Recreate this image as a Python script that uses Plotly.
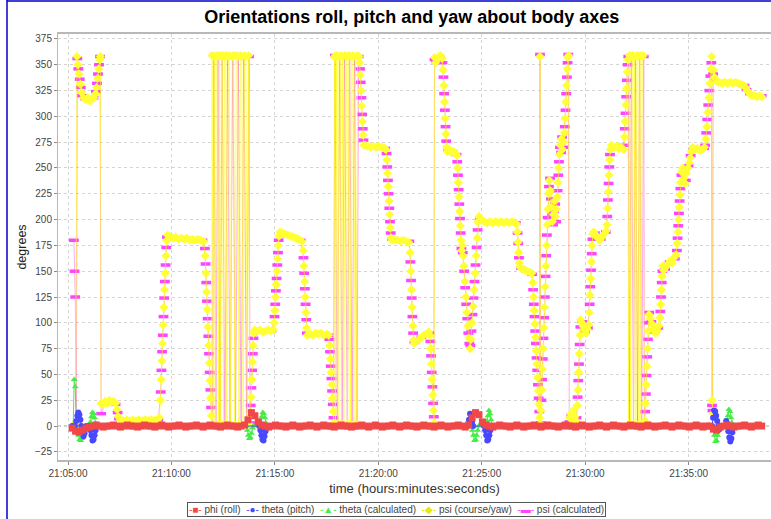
import plotly.graph_objects as go
import pandas as pd

# ---------------- data (seconds after 21:05:00, degrees) ----------------
BASE = pd.Timestamp("2011-01-01 21:05:00")

# phi (roll): sampled every 10 s from 21:05:12
phi_sec = list(range(12, 2013, 10))
phi_deg = [
    -2, -5, -6, -4, -2, -1, 0, 1, 0, -1,
    0, 0, 1, 0, -1, 0, 1, 0, 0, -1,
    0, 1, 0, 0, -1, 0, 1, 0, -1, 0,
    0, 1, 0, -1, 0, 0, 1, 0, -1, 0,
    1, 0, 0, -1, 0, 1, 0, 0, -1, 0,
    1, 6, 13, 10, 4, 1, 0, -1, 0, 1,
    0, 0, -1, 0, 1, 0, -1, 0, 0, 1,
    0, -1, 0, 1, 0, 0, -1, 0, 1, 0,
    0, -1, 0, 0, 1, 0, -1, 0, 1, 0,
    -1, 0, 0, 1, 0, -1, 0, 1, 0, 0,
    -1, 0, 1, 0, 0, -1, 0, 1, 0, -1,
    0, 0, 1, 0, -1, 1, 8, 13, 11, 4,
    1, 0, -1, 0, 1, 0, 0, -1, 0, 1,
    0, -1, 0, 0, 1, 0, -1, 0, 1, 0,
    0, -1, 0, 1, 0, 0, -1, 0, 1, 0,
    -1, 0, 0, 1, 0, -1, 0, 1, 0, 0,
    -1, 0, 1, 0, 0, -1, 0, 1, 0, -1,
    0, 0, 1, 0, -1, 0, 1, 0, 0, -1,
    0, 1, 0, -1, 0, 0, -3, -4, -1, 0,
    1, 0, -1, 0, 0, 1, 0, -1, 0, 1,
    0,
]

theta_sec = [12, 20, 24, 27, 30, 33, 36, 39, 42, 45, 48, 51, 54,
             62, 65, 68, 71, 74, 77, 80, 83,
             555, 558, 561, 564, 567, 570, 573, 576,
             1160, 1163, 1166, 1169, 1172, 1175,
             1207, 1210, 1213, 1216, 1219, 1222, 1225, 1228,
             1868, 1871, 1874, 1877, 1880, 1883, 1886, 1889, 1892,
             1906, 1909, 1912, 1915, 1918, 1921, 1924, 1927, 1930,
             2012]
theta_deg = [0, 0, 5, 10, 13, 11, 6, 0, -6, -10, -7, -2, 0,
             0, -4, -9, -14, -13, -9, -4, 0,
             0, -4, -9, -13, -14, -10, -5, -1,
             0, 6, 12, 10, 4, 0,
             0, -4, -9, -14, -13, -9, -4, 0,
             0, 8, 15, 14, 10, 5, 0, -3, 0,
             0, 5, 2, -5, -11, -15, -12, -6, 0,
             0]

thetac_sec = [12, 15, 18, 21, 24, 28, 31, 34, 37, 40, 43, 46, 49,
              62, 65, 68, 71, 74, 77, 80, 83,
              517, 520, 523, 526, 529, 532, 535, 538,
              556, 559, 562, 565, 568, 571, 574, 577,
              1170, 1173, 1176, 1179, 1182, 1185, 1188, 1191,
              1212, 1215, 1218, 1221, 1224, 1227, 1230,
              1869, 1872, 1875, 1878, 1881, 1884, 1887, 1890,
              1908, 1911, 1914, 1917, 1920, 1923, 1926, 1929,
              2012]
thetac_deg = [0, 0, 45, 38, 0, -4, -9, -13, -14, -12, -8, -3, 0,
              0, 4, 9, 13, 12, 8, 3, 0,
              0, -4, -9, -12, -11, -7, -2, 0,
              0, 4, 9, 13, 12, 8, 3, 0,
              0, -4, -9, -14, -13, -9, -4, 0,
              0, 5, 10, 15, 12, 6, 0,
              0, -4, -9, -15, -14, -9, -4, 0,
              0, 5, 10, 16, 14, 8, 3, 0,
              0]

psi_sec = [
    22, 26, 29, 32, 36, 40, 45, 51, 57, 63, 69, 75, 80, 83, 86, 89, 92, 94,
    96, 102, 108, 114, 120, 126, 132, 138, 142, 146,
    152, 161, 170, 179, 188, 197, 206, 215, 224, 233, 242, 251, 259, 265,
    268, 270, 272, 274, 276, 278, 280, 282, 284, 286,
    289, 297, 305, 313, 321, 329, 337, 345, 353, 361, 369, 377, 385, 393,
    398, 400, 402, 404, 406, 408, 410, 412, 414, 416,
    418, 421, 424, 427, 430, 433, 436, 439, 442, 445, 448, 451, 454, 458, 461, 465,
    468, 472, 476, 480, 484, 488, 492, 496, 500, 504, 508, 512, 516, 520, 524, 527,
    529, 531, 533, 535, 537, 539,
    541, 549, 557, 565, 573, 581, 589, 596,
    598, 600, 602, 604, 606, 608, 610, 612,
    615, 622, 630, 638, 646, 654, 662, 670, 678,
    682, 684, 686, 688, 690, 692,
    694, 702, 710, 718, 726, 734, 742, 750, 756,
    759, 761, 763, 765, 767, 769, 771,
    773, 776, 779, 783, 786, 790, 793, 797, 800, 804, 808, 811, 815, 819, 822, 826,
    829, 833, 836, 840, 844,
    846, 848, 850, 852, 854, 856, 858,
    862, 870, 878, 886, 894, 902, 910, 918, 922,
    925, 927, 929, 931, 933, 935, 937,
    940, 948, 956, 964, 972, 980, 988,
    992, 994, 996, 998, 1000, 1002,
    1004, 1011, 1018, 1025, 1032, 1039, 1046, 1050,
    1052, 1054, 1056, 1058, 1060, 1062,
    1063, 1066, 1071, 1076, 1081, 1085,
    1088, 1090, 1092, 1094, 1096, 1098,
    1100, 1106, 1112, 1118, 1124, 1128,
    1130, 1132, 1134, 1136, 1138, 1140,
    1142, 1144, 1146,
    1148, 1151, 1154, 1157, 1160, 1163, 1166,
    1169, 1172, 1175, 1178, 1181, 1184, 1187, 1189,
    1192, 1200, 1208, 1216, 1224, 1232, 1240, 1248, 1256, 1264, 1272, 1280, 1288, 1296, 1301,
    1303, 1305, 1307, 1309,
    1311, 1318, 1325, 1332, 1339, 1345,
    1348, 1350, 1352, 1354, 1356, 1358, 1360, 1362, 1364, 1366, 1368,
    1369, 1370,
    1372, 1374, 1376, 1378, 1380, 1382, 1384, 1386, 1388, 1390, 1392,
    1394, 1396, 1399, 1402, 1405, 1408, 1411, 1414, 1417,
    1419, 1421, 1423, 1425, 1428, 1431, 1434, 1437,
    1440, 1442, 1444, 1446, 1448, 1450, 1452,
    1455, 1458, 1462, 1466, 1470, 1474,
    1477, 1479, 1481, 1483, 1485, 1487,
    1490, 1494, 1498, 1502, 1506, 1510,
    1512, 1514, 1516, 1518, 1520, 1522,
    1525, 1531, 1537, 1543, 1549, 1555, 1561,
    1563, 1565, 1567, 1569, 1571, 1573,
    1576, 1583, 1590, 1597, 1604, 1611,
    1614, 1616, 1618, 1620, 1622, 1624,
    1626, 1629, 1632, 1635, 1638, 1641, 1644, 1647, 1650, 1653, 1656, 1659, 1662, 1665, 1668, 1671,
    1673, 1675, 1677, 1679, 1681, 1683, 1685,
    1689, 1694, 1699, 1704, 1709, 1714,
    1717, 1719, 1721, 1723, 1725,
    1728, 1734, 1740, 1746, 1752, 1758, 1764,
    1767, 1769, 1771, 1773, 1775, 1777, 1780,
    1783, 1786, 1790, 1794, 1798, 1802,
    1805, 1808,
    1812, 1819, 1826, 1833, 1840, 1846,
    1850, 1853, 1856, 1859, 1862, 1865, 1867,
    1868, 1870, 1872, 1875,
    1880, 1888, 1896, 1904, 1912, 1920, 1928, 1936, 1944, 1952, 1960,
    1965, 1970, 1975, 1980, 1985,
    1992, 1999, 2006, 2012,
]
psi_deg = [
    3, 358, 350, 341, 331, 323, 318, 316, 318, 315, 317, 318, 322, 328, 337, 346, 355, 358,
    22, 21, 24, 22, 25, 23, 24, 22, 16, 9,
    6, 5, 6, 5, 6, 5, 6, 5, 6, 5, 6, 5, 6, 8,
    25, 45, 63, 80, 98, 115, 132, 148, 165, 180,
    185, 183, 182, 183, 181, 182, 181, 182, 180, 181, 180, 181, 180, 179,
    165, 148, 130, 113, 96, 78, 61, 44, 27, 10,
    359, 2, 358, 1, 359, 358, 2, 359, 1, 358, 359, 2, 358, 359, 1, 358,
    359, 2, 358, 359, 1, 359, 358, 2, 359, 358, 1, 359, 358, 2, 359, 1,
    12, 28, 45, 62, 78, 90,
    93, 92, 93, 91, 92, 93, 92, 93,
    100, 112, 125, 137, 150, 162, 175, 184,
    188, 187, 186, 185, 184, 183, 182, 181, 179,
    170, 155, 140, 125, 110, 95,
    88, 89, 88, 90, 89, 90, 88, 89, 88,
    78, 65, 52, 40, 27, 14, 3,
    358, 2, 359, 1, 358, 359, 2, 358, 1, 359, 358, 2, 359, 1, 358, 359,
    2, 358, 1, 359, 358,
    352, 340, 325, 310, 295, 282, 272,
    272, 271, 270, 271, 270, 271, 270, 269, 268,
    258, 245, 232, 218, 205, 192, 182,
    180, 181, 180, 179, 180, 179, 178,
    168, 150, 132, 115, 97, 83,
    80, 82, 84, 86, 88, 89, 91, 88,
    75, 60, 45, 30, 15, 3,
    357, 352, 355, 358, 359, 356,
    345, 330, 314, 298, 283, 270,
    266, 268, 265, 266, 264, 262,
    250, 236, 222, 208, 194, 180,
    170, 175, 165,
    155, 140, 125, 110, 97, 85, 75,
    84, 100, 116, 132, 148, 165, 182, 198,
    203, 199, 198, 197, 198, 197, 198, 197, 198, 197, 198, 197, 198, 197, 196,
    188, 178, 168, 158,
    154, 152, 151, 150, 149, 148,
    139, 125, 112, 99, 86, 73, 60, 47, 34, 21, 8,
    358, 2,
    15, 35, 55, 75, 95, 115, 135, 155, 175, 195, 210,
    225, 238, 228, 212, 198, 205, 218, 203, 210,
    222, 236, 250, 263, 272, 278, 268, 275,
    284, 298, 314, 330, 346, 357, 359,
    8, 12, 6, 15, 9, 5,
    20, 35, 52, 70, 88, 103,
    100, 97, 93, 90, 94, 98,
    110, 127, 143, 159, 175, 186,
    188, 185, 182, 180, 183, 186, 189,
    195, 211, 227, 243, 258, 268,
    272, 270, 271, 269, 270, 268,
    280, 295, 311, 327, 343, 355,
    2, 359, 1, 358, 359, 2, 358, 1, 359, 358, 2, 359, 1, 358, 359, 2,
    5, 22, 40, 58, 75, 92, 108,
    104, 99, 94, 90, 92, 97,
    105, 118, 132, 145, 155,
    151, 154, 157, 160, 158, 163, 166,
    177, 188, 200, 212, 224, 236, 246,
    250, 240, 235, 245, 250, 255,
    260, 266,
    270, 268, 269, 267, 268, 270,
    278, 290, 304, 318, 332, 346, 358,
    25, 12, 345, 338,
    334, 333, 332, 333, 332, 333, 332, 333, 332, 331, 330,
    328, 325, 323, 321, 320,
    320, 319, 320, 319,
]

psic_sec = [
    17, 19, 21, 24, 27, 30, 34, 37, 41, 50, 62, 74, 81, 84, 87, 90, 93,
    96, 110, 124, 138, 144, 148,
    170, 200, 230, 262,
    269, 271, 273, 275, 277, 279, 281, 283, 285, 287,
    300, 330, 360, 390,
    397, 399, 401, 403, 405, 407, 409, 411, 413, 415,
    419, 423, 429, 435, 441, 447, 455, 463, 470, 478, 486, 494, 502, 510, 518, 525,
    528, 530, 532, 534, 536, 538,
    560, 590,
    599, 601, 603, 605, 607, 609, 611,
    640, 675,
    683, 685, 687, 689, 691,
    693, 720, 755,
    758, 760, 762, 764, 766, 768, 770,
    774, 781, 788, 795, 802, 810, 817, 824, 831, 838, 843,
    847, 849, 851, 853, 855, 857,
    870, 900, 920,
    924, 926, 928, 930, 932, 934, 936,
    940, 965, 990,
    993, 995, 997, 999, 1001,
    1005, 1025, 1048,
    1051, 1053, 1055, 1057, 1059, 1061,
    1063, 1068, 1078, 1086,
    1089, 1091, 1093, 1095, 1097,
    1103, 1115, 1127,
    1129, 1131, 1133, 1135, 1137, 1139,
    1141, 1145,
    1149, 1152, 1155, 1158, 1161, 1164, 1167,
    1170, 1173, 1176, 1179, 1182, 1185, 1188,
    1195, 1230, 1265, 1299,
    1304, 1306, 1308,
    1314, 1330, 1346,
    1349, 1351, 1353, 1355, 1357, 1359, 1361, 1363, 1365, 1367,
    1369, 1371,
    1373, 1375, 1377, 1379, 1381, 1383, 1385, 1387, 1389, 1391,
    1395, 1398, 1401, 1404, 1407, 1410, 1413, 1416,
    1420, 1422, 1424, 1427, 1430, 1433, 1436,
    1441, 1443, 1445, 1447, 1449, 1451,
    1454, 1460, 1468, 1475,
    1478, 1480, 1482, 1484, 1486,
    1492, 1500, 1508,
    1513, 1515, 1517, 1519, 1521,
    1528, 1545, 1560,
    1564, 1566, 1568, 1570, 1572,
    1585, 1600, 1612,
    1615, 1617, 1619, 1621, 1623,
    1625, 1628, 1634, 1640, 1646, 1652, 1658, 1664, 1670,
    1672, 1674, 1676, 1678, 1680, 1682, 1684, 1686,
    1692, 1702, 1712,
    1718, 1720, 1722, 1724,
    1732, 1745, 1760,
    1766, 1768, 1770, 1772, 1774, 1776, 1779,
    1785, 1792, 1800,
    1806,
    1815, 1830, 1845,
    1848, 1851, 1854, 1857, 1860, 1863, 1866,
    1868, 1869, 1871, 1874,
    1890, 1920, 1950, 1962,
    1968, 1978, 1990, 2005, 2012,
]
psic_deg = [
    180, 150, 125, 1, 356, 346, 336, 328, 320, 317, 316, 318, 324, 332, 341, 350, 358,
    12, 23, 24, 21, 13, 7,
    5, 6, 5, 6,
    33, 54, 72, 88, 106, 124, 140, 156, 173, 183,
    182, 181, 181, 180,
    172, 157, 139, 121, 104, 87, 70, 52, 35, 18,
    1, 359, 2, 358, 1, 359, 2, 358, 1, 359, 2, 358, 1, 359, 2, 358,
    3, 20, 37, 54, 70, 85,
    92, 92,
    106, 118, 131, 143, 156, 168, 180,
    185, 180,
    163, 148, 133, 118, 103,
    90, 89, 88,
    84, 72, 58, 46, 34, 21, 8,
    359, 2, 358, 1, 359, 2, 358, 1, 359, 2, 358,
    346, 333, 318, 302, 288, 277,
    271, 270, 269,
    264, 251, 238, 225, 211, 198, 187,
    181, 180, 179,
    159, 141, 124, 106, 90,
    81, 86, 90,
    82, 68, 52, 38, 22, 9,
    355, 353, 358, 352,
    338, 322, 306, 290, 276,
    267, 266, 263,
    256, 243, 229, 215, 201, 187,
    172, 168,
    150, 134, 118, 104, 90, 80, 78,
    92, 108, 124, 140, 156, 173, 190,
    200, 197, 198, 197,
    187, 177, 163,
    153, 150, 147,
    132, 118, 106, 92, 80, 66, 54, 40, 27, 14,
    360, 3,
    25, 45, 65, 85, 105, 125, 145, 165, 185, 202,
    232, 240, 220, 205, 195, 208, 215, 198,
    228, 243, 256, 270, 265, 280, 270,
    290, 306, 322, 338, 352, 360,
    4, 10, 7, 8,
    28, 44, 60, 79, 96,
    101, 91, 95,
    118, 135, 151, 167, 181,
    187, 181, 188,
    203, 219, 235, 251, 263,
    270, 270, 272,
    288, 303, 319, 335, 350,
    358, 1, 359, 2, 358, 1, 359, 2, 358,
    2, 14, 31, 49, 67, 84, 100, 110,
    101, 91, 95,
    111, 125, 139, 150,
    152, 159, 162,
    170, 182, 194, 206, 218, 230, 243,
    245, 238, 252,
    262,
    269, 268, 269,
    272, 284, 297, 311, 325, 339, 352,
    20, 15, 341, 334,
    333, 332, 331, 330,
    326, 322, 320, 319, 320,
]

assert len(phi_sec) == len(phi_deg), (len(phi_sec), len(phi_deg))
assert len(theta_sec) == len(theta_deg)
assert len(thetac_sec) == len(thetac_deg)
assert len(psi_sec) == len(psi_deg), (len(psi_sec), len(psi_deg))
assert len(psic_sec) == len(psic_deg), (len(psic_sec), len(psic_deg))

series_names = ["phi (roll)", "theta (pitch)", "theta (calculated)",
                "psi (course/yaw)", "psi (calculated)"]
series_colors = ["#F04848", "#4848FF", "#44EE44", "#FFFF33", "#FF44FF"]


def to_time(secs):
    return [BASE + pd.Timedelta(seconds=s) for s in secs]


fig = go.Figure()

# drawn in reverse order (first series on top), like the original renderer
fig.add_trace(go.Scatter(
    x=to_time(psic_sec), y=psic_deg, mode="lines+markers", name=series_names[4],
    line=dict(color="rgba(255,70,200,0.45)", width=1),
    marker=dict(symbol="line-ew", size=7, line=dict(width=3.5, color=series_colors[4])),
    showlegend=False))
fig.add_trace(go.Scatter(
    x=to_time(psi_sec), y=psi_deg, mode="lines+markers", name=series_names[3],
    line=dict(color="rgba(255,255,0,0.6)", width=1),
    marker=dict(symbol="diamond", size=7, color=series_colors[3], line=dict(width=0)),
    showlegend=False))
fig.add_trace(go.Scatter(
    x=to_time(thetac_sec), y=thetac_deg, mode="lines+markers", name=series_names[2],
    line=dict(color=series_colors[2], width=1),
    marker=dict(symbol="triangle-up", size=6, color=series_colors[2], line=dict(width=0)),
    showlegend=False))
fig.add_trace(go.Scatter(
    x=to_time(theta_sec), y=theta_deg, mode="lines+markers", name=series_names[1],
    line=dict(color=series_colors[1], width=1),
    marker=dict(symbol="circle", size=6, color=series_colors[1], line=dict(width=0)),
    showlegend=False))
fig.add_trace(go.Scatter(
    x=to_time(phi_sec), y=phi_deg, mode="lines+markers", name=series_names[0],
    line=dict(color=series_colors[0], width=1),
    marker=dict(symbol="square", size=7, color=series_colors[0], line=dict(width=0)),
    showlegend=False))

# legend drawn as a boxed text row
legend_symbols = ["■", "●", "▲", "◆", "▬"]
parts = []
for sym, col, nm in zip(legend_symbols, series_colors, series_names):
    c = "#E8E800" if col == "#FFFF33" else col
    parts.append(f"<span style='color:{c}'>-{sym}-</span> {nm}")
legend_text = "\u00a0\u00a0".join(parts)

font_family = "Liberation Sans, Arial, sans-serif"

fig.update_layout(
    width=771, height=519,
    margin=dict(l=58, r=0, t=34, b=59, autoexpand=False),
    paper_bgcolor="white", plot_bgcolor="white",
    font=dict(family=font_family, size=10, color="#444"),
    title=dict(text="<b>Orientations roll, pitch and yaw about body axes</b>",
               x=0.534, xref="container", xanchor="center",
               y=1 - 17 / 519, yref="container", yanchor="middle",
               font=dict(family=font_family, size=18, color="#000")),
    showlegend=False,
    hovermode=False,
    xaxis=dict(
        type="date", automargin=False,
        range=[BASE - pd.Timedelta(seconds=29), BASE + pd.Timedelta(seconds=2039)],
        tick0=BASE, dtick=300000, tickformat="%H:%M:%S",
        showgrid=True, gridcolor="#D4D4D4", griddash="dot", gridwidth=1,
        showline=True, linecolor="#B8B8B8", linewidth=2, mirror=True,
        ticks="outside", ticklen=3, tickcolor="#888",
        tickfont=dict(size=10, color="#444"),
        zeroline=False,
        title=dict(text="time (hours:minutes:seconds)", standoff=6,
                   font=dict(size=13, color="#333")),
    ),
    yaxis=dict(
        automargin=False,
        range=[-32.9, 379.8], tick0=0, dtick=25,
        showgrid=True, gridcolor="#D4D4D4", griddash="dot", gridwidth=1,
        showline=True, linecolor="#B8B8B8", linewidth=1, mirror=True,
        ticks="outside", ticklen=3, tickcolor="#888",
        tickfont=dict(size=10, color="#444"),
        zeroline=False,
        title=dict(text="degrees", standoff=5, font=dict(size=12.5, color="#222")),
    ),
    shapes=[
        dict(type="line", xref="paper", x0=0, x1=1, yref="y", y0=0, y1=0,
             line=dict(color="#8C8CFF", width=1, dash="dot"), layer="below"),
        dict(type="line", xref="paper", yref="paper",
             x0=(7 - 58) / 713, x1=(7 - 58) / 713, y0=(460 - 519) / 426, y1=(460 - 0) / 426,
             line=dict(color="#0000CC", width=1.5)),
        dict(type="line", xref="paper", yref="paper",
             x0=(7 - 58) / 713, x1=1.01, y0=(460 - 1) / 426, y1=(460 - 1) / 426,
             line=dict(color="#0000CC", width=1.5)),
    ],
    annotations=[
        dict(text=legend_text, xref="paper", yref="paper",
             x=(396 - 58) / 713, y=(460 - 509.5) / 426,
             xanchor="center", yanchor="middle", showarrow=False,
             font=dict(size=10, color="#444", family=font_family),
             bordercolor="#555", borderwidth=1, borderpad=1, bgcolor="white"),
    ],
)

fig.write_html("out.html",
               config={"displayModeBar": False, "staticPlot": True},
               post_script="document.body.style.margin='0px';"
                           "document.body.style.overflow='hidden';")
